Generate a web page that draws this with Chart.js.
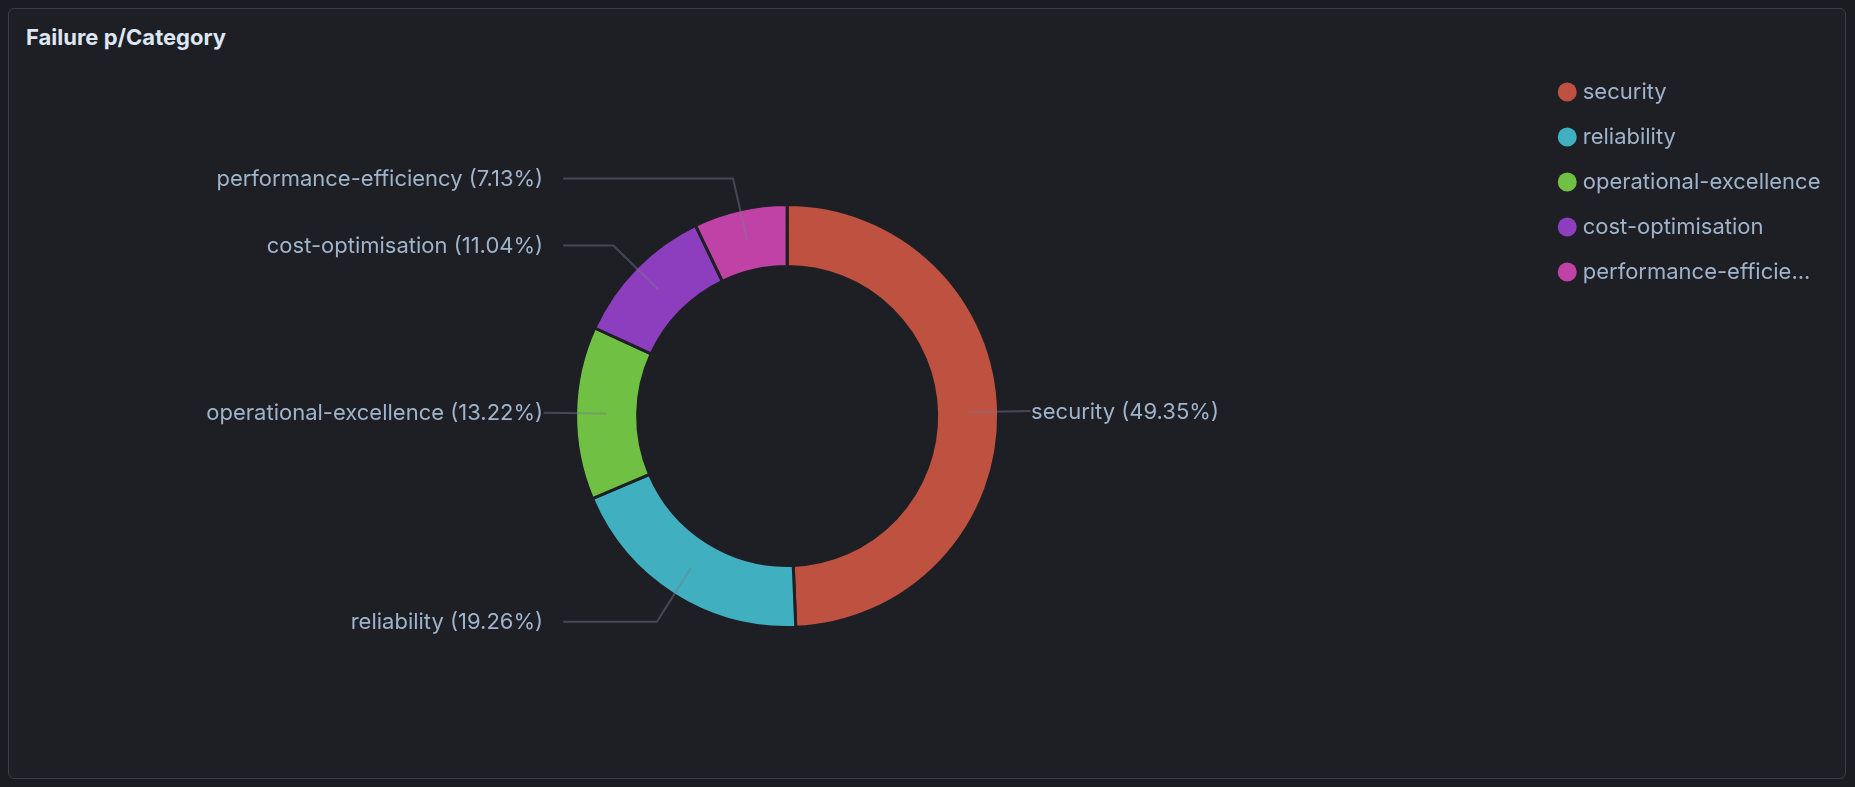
<!DOCTYPE html>
<html>
<head>
<meta charset="utf-8">
<script src="https://cdn.jsdelivr.net/npm/chart.js@4.4.1/dist/chart.umd.min.js"></script>
<style>
  html, body { margin: 0; padding: 0; width: 1855px; height: 787px; background: #1b1c21; overflow: hidden; }
  #panel { position: absolute; left: 8px; top: 8px; width: 1836px; height: 769px; border: 1px solid #3b3c47; border-radius: 6px; background: #1e1f24; }
  #title { position: absolute; left: 26px; top: 24px; font: bold 22px Inter, sans-serif; color: #dde6f3; }
  #wrap { position: absolute; left: 0; top: 0; width: 1855px; height: 787px; }
</style>
</head>
<body>
<div id="panel"></div>
<div id="title">Failure p/Category</div>
<div id="wrap"><canvas id="c"></canvas></div>
<script>
const categories = ['security', 'reliability', 'operational-excellence', 'cost-optimisation', 'performance-efficiency'];
const legendLabels = ['security', 'reliability', 'operational-excellence', 'cost-optimisation', 'performance-efficie...'];
const percentages = [49.35, 19.26, 13.22, 11.04, 7.13];
const colors = ['#be5140', '#40b0c1', '#70c044', '#8d3ebf', '#c042a7'];

const BG = '#1e1f24';
const LABEL_COLOR = '#9fb3cb';
const LABEL_FONT = '22px Inter, sans-serif';

const outerLabels = {
  id: 'outerLabels',
  afterDatasetsDraw(chart) {
    const ctx = chart.ctx;
    const meta = chart.getDatasetMeta(0);
    ctx.save();
    ctx.font = LABEL_FONT;
    ctx.textBaseline = 'middle';
    meta.data.forEach((arc, i) => {
      const p = arc.getProps(['x', 'y', 'startAngle', 'endAngle', 'innerRadius', 'outerRadius'], true);
      const mid = (p.startAngle + p.endAngle) / 2;
      const rMid = (p.innerRadius + p.outerRadius) / 2;
      const rElbow = p.outerRadius + 32;
      const cos = Math.cos(mid), sin = Math.sin(mid);
      const x0 = p.x + cos * rMid, y0 = p.y + sin * rMid;
      const x1 = p.x + cos * rElbow, y1 = p.y + sin * rElbow;
      const right = cos >= 0;
      const lineCol = right ? p.x + p.outerRadius + 12.5 : p.x - p.outerRadius - 12.5;
      const textCol = right ? p.x + p.outerRadius + 32.5 : p.x - p.outerRadius - 32.5;
      ctx.beginPath();
      ctx.moveTo(x0, y0);
      ctx.lineTo(x1, y1);
      if (right ? x1 < lineCol : x1 > lineCol) ctx.lineTo(lineCol, y1);
      ctx.strokeStyle = 'rgba(120,122,140,0.45)';
      ctx.lineWidth = 2;
      ctx.stroke();
      ctx.fillStyle = LABEL_COLOR;
      ctx.textAlign = right ? 'left' : 'right';
      ctx.fillText(categories[i] + ' (' + percentages[i].toFixed(2) + '%)', textCol, y1 + 1);
    });
    ctx.restore();
  }
};

new Chart(document.getElementById('c'), {
  type: 'doughnut',
  data: {
    labels: legendLabels,
    datasets: [{
      data: percentages,
      backgroundColor: colors,
      borderColor: BG,
      borderWidth: 3,
      hoverOffset: 0
    }]
  },
  options: {
    responsive: true,
    maintainAspectRatio: false,
    animation: false,
    radius: 211.5,
    cutout: '70.69%',
    layout: { padding: { top: 58, left: 34.5, right: 24.5, bottom: 13 } },
    plugins: {
      tooltip: { enabled: false },
      legend: {
        position: 'right',
        align: 'start',
        maxWidth: 500,
        labels: {
          usePointStyle: true,
          pointStyle: 'circle',
          boxWidth: 9,
          boxHeight: 13.43,
          padding: 23,
          color: LABEL_COLOR,
          font: { family: 'Inter, sans-serif', size: 22 },
          generateLabels(chart) {
            const items = Chart.overrides.doughnut.plugins.legend.labels.generateLabels(chart);
            return items.map(it => Object.assign(it, { lineWidth: 0 }));
          }
        }
      }
    }
  },
  plugins: [outerLabels]
});
</script>
</body>
</html>
